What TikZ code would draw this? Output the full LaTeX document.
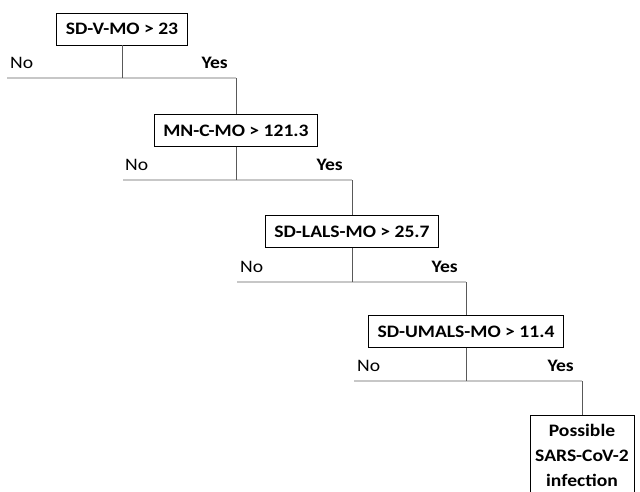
\documentclass[tikz,border=0pt]{standalone}
\usepackage{fontspec}
\setmainfont{Carlito}[FakeStretch=1.12]
\usetikzlibrary{positioning}
\newcommand\colorBox{black}
\newcommand\colorStem{black!65}
\newcommand\colorSplit{black!22}
\newcommand\labelRaise{9.5pt}
\newcommand\treeFont{\fontsize{17.5}{25}\selectfont}

\begin{document}
\begin{tikzpicture}[x=1pt,y=1pt,
		cond/.style={draw=\colorBox, line width=0.8pt, font=\treeFont\bfseries,
			inner xsep=9pt, minimum height=32pt},
		stem/.style={draw=\colorStem, line width=0.7pt},
		split/.style={draw=\colorSplit, line width=1.3pt},
		nobranch/.style={font=\treeFont, inner sep=0pt},
		yesbranch/.style={font=\treeFont\bfseries, inner sep=0pt}]
		\useasboundingbox (0,0) rectangle (640,-492);
		\clip (0,0) rectangle (640,-492);
		
		% decision boxes
		\node[cond] (cond1) at (122,-29) {SD-V-MO > 23};
		\node[cond] (cond2) at (236,-130.5) {MN-C-MO > 121.3};
		\node[cond] (cond3) at (352,-231.5) {SD-LALS-MO > 25.7};
		\node[cond] (cond4) at (466,-331.5) {SD-UMALS-MO > 11.4};
		\node[cond, anchor=north, align=center, text width=98pt, inner xsep=3pt, inner ysep=9pt]
			(result) at (582,-415) {Possible\\SARS-CoV-2\\infection};
		
		% split points
		\coordinate (split1) at (122,-78);
		\coordinate (noEnd1) at (7,-78);
		\coordinate (yesEnd1) at (236,-78);
		\coordinate (split2) at (236,-180);
		\coordinate (noEnd2) at (123,-180);
		\coordinate (yesEnd2) at (352,-180);
		\coordinate (split3) at (352,-282);
		\coordinate (noEnd3) at (237,-282);
		\coordinate (yesEnd3) at (466,-282);
		\coordinate (split4) at (466,-381);
		\coordinate (noEnd4) at (354,-381);
		\coordinate (yesEnd4) at (582,-381);
		
		\draw[split] (noEnd1) to (yesEnd1);
		\draw[split] (noEnd2) to (yesEnd2);
		\draw[split] (noEnd3) to (yesEnd3);
		\draw[split] (noEnd4) to (yesEnd4);
		
		\draw[stem] (cond1) to (split1);
		\draw[stem] (yesEnd1) to (cond2);
		\draw[stem] (cond2) to (split2);
		\draw[stem] (yesEnd2) to (cond3);
		\draw[stem] (cond3) to (split3);
		\draw[stem] (yesEnd3) to (cond4);
		\draw[stem] (cond4) to (split4);
		\draw[stem] (yesEnd4) to (result);
		
		% branch labels
		\node[nobranch, above right=\labelRaise and 3pt of noEnd1] (no1) {No};
		\node[yesbranch, above left=\labelRaise and 8pt of yesEnd1] (yes1) {Yes};
		\node[nobranch, above right=\labelRaise and 2pt of noEnd2] (no2) {No};
		\node[yesbranch, above left=\labelRaise and 9pt of yesEnd2] (yes2) {Yes};
		\node[nobranch, above right=\labelRaise and 3pt of noEnd3] (no3) {No};
		\node[yesbranch, above left=\labelRaise and 8pt of yesEnd3] (yes3) {Yes};
		\node[nobranch, above right=\labelRaise and 3pt of noEnd4] (no4) {No};
		\node[yesbranch, above left=\labelRaise and 8pt of yesEnd4] (yes4) {Yes};
	\end{tikzpicture}
\end{document}
